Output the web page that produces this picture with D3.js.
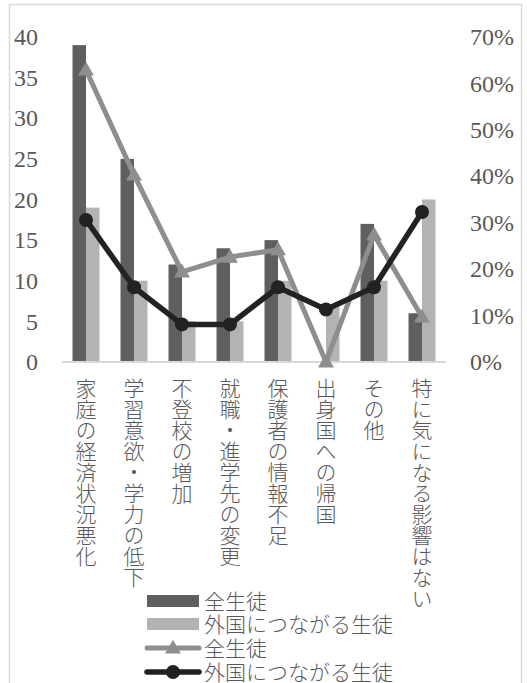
<!DOCTYPE html>
<html>
<head>
<meta charset="utf-8">
<script src="https://cdn.jsdelivr.net/npm/d3@7"></script>
<style>
  body { margin: 0; background: #fff; }
</style>
</head>
<body>
<div id="chart"></div>
<script>
// categories and values
var categories = ["家庭の経済状況悪化", "学習意欲・学力の低下", "不登校の増加", "就職・進学先の変更",
  "保護者の情報不足", "出身国への帰国", "その他", "特に気になる影響はない"];
var allCount = [39, 25, 12, 14, 15, 0, 17, 6];
var foreignCount = [19, 10, 5, 5, 10, 7, 10, 20];
var allPct = [0.629, 0.403, 0.194, 0.226, 0.242, 0, 0.274, 0.097];
var foreignPct = [0.306, 0.161, 0.081, 0.081, 0.161, 0.113, 0.161, 0.323];
var leftTicks = [0, 5, 10, 15, 20, 25, 30, 35, 40];
var rightTicks = [0, 0.1, 0.2, 0.3, 0.4, 0.5, 0.6, 0.7];
var seriesNames = ["全生徒", "外国につながる生徒"];

var width = 527, height = 683;
var plotLeft = 62, plotRight = 446, plotTop = 37, plotBottom = 362;
var darkBar = "#5f5f5f", lightBar = "#b3b3b3", greyLine = "#8e8e8e", blackLine = "#222222";
var textColor = "#595959";
var serifFont = "'Liberation Serif', 'DejaVu Serif', serif";
var jpFont = "'Noto Sans CJK JP', sans-serif";

var svg = d3.select("#chart").append("svg")
  .attr("width", width)
  .attr("height", height);

// outer frame
svg.append("rect")
  .attr("x", 9.5).attr("y", 4.5)
  .attr("width", 512).attr("height", 700)
  .attr("fill", "none")
  .attr("stroke", "#d9d9d9")
  .attr("stroke-width", 1.5);

var x = d3.scaleBand().domain(categories).range([plotLeft, plotRight]).padding(0);
var xs = d3.scaleBand().domain(["all", "foreign"]).range([0, x.bandwidth()])
  .paddingInner(0).paddingOuter(0.78);
var yL = d3.scaleLinear().domain([0, 40]).range([plotBottom, plotTop]);
var yR = d3.scaleLinear().domain([0, 0.7]).range([plotBottom, plotTop]);

// axes (labels only)
var leftAxis = svg.append("g")
  .attr("transform", "translate(38,0)")
  .call(d3.axisLeft(yL).tickValues(leftTicks).tickSize(0).tickPadding(0));
var rightAxis = svg.append("g")
  .attr("transform", "translate(470,0)")
  .call(d3.axisRight(yR).tickValues(rightTicks).tickFormat(d3.format(".0%")).tickSize(0).tickPadding(0));
[leftAxis, rightAxis].forEach(function(a){
  a.select(".domain").remove();
  a.attr("font-family", null).attr("font-size", null);
  a.selectAll("text")
    .attr("fill", textColor)
    .style("font-family", serifFont)
    .style("font-size", "24px");
});

// bars
var barData = categories.map(function(c, i){
  return [{cat: c, key: "all", v: allCount[i]}, {cat: c, key: "foreign", v: foreignCount[i]}];
});
svg.append("g").selectAll("g")
  .data(barData)
  .enter().append("g")
  .attr("transform", function(d){ return "translate(" + x(d[0].cat) + ",0)"; })
  .selectAll("rect")
  .data(function(d){ return d; })
  .enter().append("rect")
  .attr("x", function(d){ return xs(d.key); })
  .attr("width", xs.bandwidth())
  .attr("y", function(d){ return yL(d.v); })
  .attr("height", function(d){ return plotBottom - yL(d.v); })
  .attr("fill", function(d){ return d.key == "all" ? darkBar : lightBar; });

// baseline
svg.append("line")
  .attr("x1", plotLeft).attr("x2", plotRight)
  .attr("y1", plotBottom).attr("y2", plotBottom)
  .attr("stroke", "#d9d9d9").attr("stroke-width", 2);

function cx(i){ return x(categories[i]) + x.bandwidth() / 2; }
var line = d3.line()
  .x(function(d, i){ return cx(i); })
  .y(function(d){ return yR(d); });

var tri = d3.symbol().type(d3.symbolTriangle).size(110);

// grey line with triangles
svg.append("path")
  .datum(allPct)
  .attr("d", line)
  .attr("fill", "none")
  .attr("stroke", greyLine)
  .attr("stroke-width", 5)
  .attr("stroke-linejoin", "round");
svg.append("g").selectAll("path")
  .data(allPct)
  .enter().append("path")
  .attr("d", tri)
  .attr("transform", function(d, i){ return "translate(" + cx(i) + "," + (yR(d) + 1) + ")"; })
  .attr("fill", greyLine);

// black line with circles
svg.append("path")
  .datum(foreignPct)
  .attr("d", line)
  .attr("fill", "none")
  .attr("stroke", blackLine)
  .attr("stroke-width", 5.5)
  .attr("stroke-linejoin", "round");
svg.append("g").selectAll("circle")
  .data(foreignPct)
  .enter().append("circle")
  .attr("cx", function(d, i){ return cx(i); })
  .attr("cy", function(d){ return yR(d); })
  .attr("r", 7)
  .attr("fill", blackLine);

// vertical category labels
svg.append("g").selectAll("text")
  .data(categories)
  .enter().append("text")
  .attr("x", function(d){ return x(d) + x.bandwidth() / 2; })
  .attr("y", 378)
  .attr("fill", textColor)
  .style("font-family", jpFont)
  .style("font-weight", 300)
  .style("font-size", "21px")
  .style("writing-mode", "vertical-rl")
  .text(function(d){ return d; });

// legend
var legendY = [601, 624, 648, 672];
var lg = svg.append("g");
lg.append("rect").attr("x", 147).attr("y", legendY[0] - 6).attr("width", 52).attr("height", 12).attr("fill", darkBar);
lg.append("rect").attr("x", 147).attr("y", legendY[1] - 6).attr("width", 52).attr("height", 12).attr("fill", lightBar);
lg.append("line").attr("x1", 147).attr("x2", 199).attr("y1", legendY[2]).attr("y2", legendY[2])
  .attr("stroke", greyLine).attr("stroke-width", 5).attr("stroke-linecap", "round");
lg.append("path").attr("d", tri).attr("transform", "translate(173," + (legendY[2] + 1) + ")").attr("fill", greyLine);
lg.append("line").attr("x1", 147).attr("x2", 199).attr("y1", legendY[3]).attr("y2", legendY[3])
  .attr("stroke", blackLine).attr("stroke-width", 5.5).attr("stroke-linecap", "round");
lg.append("circle").attr("cx", 173).attr("cy", legendY[3]).attr("r", 7).attr("fill", blackLine);
var legendLabels = [seriesNames[0], seriesNames[1], seriesNames[0], seriesNames[1]];
lg.selectAll("text")
  .data(legendLabels)
  .enter().append("text")
  .attr("x", 204)
  .attr("y", function(d, i){ return legendY[i]; })
  .attr("dy", "0.36em")
  .attr("fill", textColor)
  .style("font-family", jpFont)
  .style("font-weight", 300)
  .style("font-size", "21px")
  .text(function(d){ return d; });
</script>
</body>
</html>
